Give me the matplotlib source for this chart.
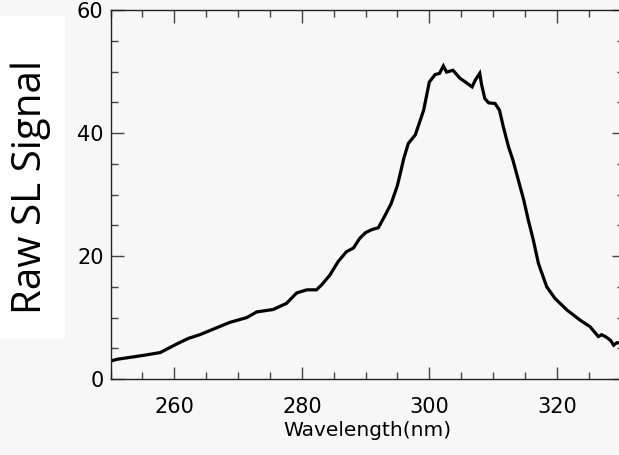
import matplotlib
matplotlib.use('Agg')
import matplotlib.pyplot as plt
from matplotlib.patches import Rectangle
from matplotlib.ticker import MultipleLocator

# spectrum
wavelength = [250.0, 251.0, 253.6, 255.5, 257.8, 260.4, 262.2, 264.0, 266.1,
              268.7, 271.4, 272.9, 275.5, 277.6, 279.2, 280.8, 282.3, 283.1,
              284.4, 285.7, 287.0, 288.1, 289.1, 290.0, 291.0, 292.0, 293.0,
              294.0, 295.0, 296.0, 296.7, 297.8, 299.1, 300.0, 300.9, 301.6,
              302.2, 302.7, 303.7, 304.8, 305.9, 306.7, 307.2, 307.9, 308.2,
              308.7, 309.3, 310.3, 311.0, 311.6, 312.4, 313.1, 314.8, 315.5,
              316.3, 317.1, 318.4, 319.7, 321.6, 323.6, 325.2, 326.5, 327.0,
              327.6, 328.4, 328.9, 329.4, 330.6]
signal = [2.9, 3.2, 3.6, 3.9, 4.3, 5.7, 6.6, 7.2, 8.1,
          9.2, 10.0, 10.9, 11.3, 12.3, 14.0, 14.5, 14.5, 15.3,
          16.9, 19.1, 20.7, 21.3, 22.9, 23.8, 24.3, 24.6, 26.5,
          28.5, 31.5, 35.9, 38.3, 39.7, 43.7, 48.3, 49.5, 49.7,
          50.9, 49.9, 50.2, 48.9, 48.1, 47.5, 48.6, 49.7, 47.8,
          45.6, 44.9, 44.8, 43.7, 41.0, 37.8, 35.6, 29.1, 25.9,
          22.6, 18.8, 15.0, 13.1, 11.2, 9.6, 8.5, 6.9, 7.2,
          6.9, 6.3, 5.5, 5.9, 5.8]

bg = '#f7f7f7'
W, H = 619, 455
fig = plt.figure(figsize=(W / 100, H / 100), dpi=100, facecolor=bg)

# axes box in pixels: left 110.5, right edge past the image, top 10, bottom 379
ax = fig.add_axes([110.5 / W, (H - 379) / H, 514 / W, 369 / H], facecolor=bg)
ax.plot(wavelength, signal, color='black', lw=2.3, solid_joinstyle='miter')

ax.set_xlim(250, 330.6)
ax.set_ylim(0, 60)
ax.xaxis.set_major_locator(MultipleLocator(20))
ax.xaxis.set_minor_locator(MultipleLocator(5))
ax.yaxis.set_major_locator(MultipleLocator(20))
ax.yaxis.set_minor_locator(MultipleLocator(5))
ax.tick_params(which='both', direction='in', top=True, right=True,
               color='#444444', width=1.0, labelsize=15)
ax.tick_params(which='major', length=9)
ax.tick_params(which='minor', length=5)
ax.tick_params(axis='x', which='major', pad=13)
ax.tick_params(axis='y', which='major', pad=5)
for s in ax.spines.values():
    s.set_color('#222222')
    s.set_linewidth(1.0)

ax.set_xlabel('Wavelength(nm)', fontsize=14.5, labelpad=3)

# white label box on the left
fig.patches.append(Rectangle((0, (H - 338) / H), 65 / W, 322 / H,
                             transform=fig.transFigure, facecolor='white',
                             edgecolor='none'))
fig.text(31 / W, (H - 187) / H, 'Raw SL Signal', rotation=90,
         ha='center', va='center', fontsize=29, family='Open Sans')

fig.savefig('out.png', dpi=100, facecolor=bg)
